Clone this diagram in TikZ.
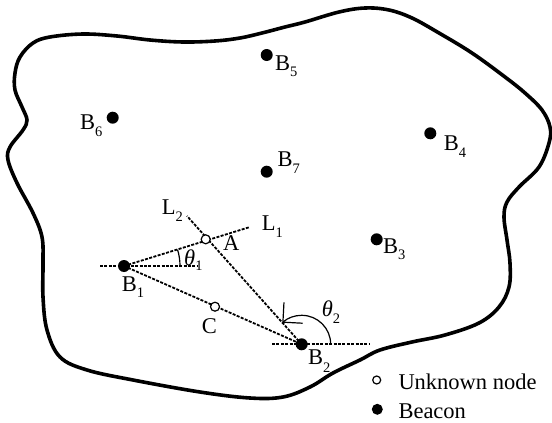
\documentclass[tikz,border=0pt]{standalone}
\usepackage{fontspec}
\setmainfont{Liberation Serif}
\usetikzlibrary{arrows.meta}
\newcommand\sbs[2][6.5pt]{\raisebox{-#1}{\fontsize{14.5}{15}\selectfont #2}}
\begin{document}
\begin{tikzpicture}[x=1pt,y=-1pt,
  beacon/.style={circle,fill=black,inner sep=0pt,minimum size=12pt},
  unknown/.style={circle,draw=black,fill=white,line width=1.2pt,inner sep=0pt,minimum size=9pt},
  lbl/.style={anchor=base west,inner sep=0pt,font=\fontsize{22.5}{26}\selectfont},
  dline/.style={line width=1.8pt,dash pattern=on 3pt off 1.4pt},
  angarc/.style={line width=1.2pt},
  region/.style={line width=3.6pt,line join=round}]
\useasboundingbox (0,0) rectangle (552,423);
% region outline
\draw[region] plot[smooth cycle,tension=0.6] coordinates {
 (20,57) (33,43) (50,37) (83,34) (117,36) (150,40) (183,42) (215,41) (240,38)
 (262,33) (285,27) (305,22) (339,12) (365,8) (389,10) (412,18) (439,33) (472,53)
 (505,77) (525,93) (542,110) (550,127) (549,143) (539,167) (519,187) (507,202)
 (504,217) (507,240) (510,263) (509,287) (499,307) (479,323) (445,335) (412,342)
 (380,350) (360,360) (333,373) (310,387) (283,397) (250,398) (200,392) (133,380)
 (87,370) (60,357) (47,330) (43,297) (43,263) (42,237) (33,213) (17,183) (8,160)
 (10,147) (23,130) (27,120) (22,107) (15,90) (15,73)};
% positions
\coordinate (B1) at (124,266);
\coordinate (B2) at (301.7,344.3);
\coordinate (H1l) at (100,266);
\coordinate (H1r) at (198,266);
\coordinate (H2l) at (272,344.3);
\coordinate (H2r) at (370,344.3);
\coordinate (L1e) at (250,227);
\coordinate (L2e) at (187,216);
% dashed construction lines
\draw[dline] (H1l) -- (H1r);
\draw[dline] (H2l) -- (H2r);
\draw[dline] (B1) -- (L1e);
\draw[dline] (B1) -- (B2);
\draw[dline] (B2) -- (L2e);
% angles
\draw[angarc] (B1) ++(56pt,0pt) arc[start angle=0,end angle=17,radius=56pt];
\draw[angarc,-{Straight Barb[length=14pt,width=28pt,line width=1.2pt]}] (B2) ++(29pt,0pt) arc[start angle=0,end angle=132,radius=29pt];
% nodes
\node[beacon] (b1) at (B1) {};
\node[beacon] (b2) at (B2) {};
\node[beacon] (b3) at (376.7,239.3) {};
\node[beacon] (b4) at (430.3,133.3) {};
\node[beacon] (b5) at (266.7,55) {};
\node[beacon] (b6) at (112.7,117.7) {};
\node[beacon] (b7) at (266.7,171.7) {};
\node[unknown] (a) at (205.7,239.3) {};
\node[unknown] (c) at (215,306.7) {};
% labels
\node[lbl] (lb1) at (121.7,291.7) {B\sbs[5.5pt]{1}};
\node[lbl] (lb2) at (308,364) {B\sbs[8pt]{2}};
\node[lbl] (lb3) at (383,253.3) {B\sbs{3}};
\node[lbl] (lb4) at (443.7,150.7) {B\sbs{4}};
\node[lbl] (lb5) at (275,70) {B\sbs{5}};
\node[lbl] (lb6) at (80,129) {B\sbs[7pt]{6}};
\node[lbl] (lb7) at (277.3,166.7) {B\sbs{7}};
\node[lbl] (la) at (223,250.7) {A};
\node[lbl] (lc) at (201.7,333.3) {C};
\node[lbl] (ll1) at (261.7,230.7) {L\sbs{1}};
\node[lbl] (ll2) at (161.7,214) {L\sbs[7pt]{2}};
\node[lbl] (lt1) at (184,265) {\textit{θ}\sbs[5pt]{1}};
\node[lbl] (lt2) at (321.7,316.7) {\textit{θ}\sbs{2}};
% legend
\node[unknown,minimum size=8pt] (legu) at (376.7,380) {};
\node[lbl] (legut) at (398.3,389) {Unknown node};
\node[beacon,minimum size=11pt] (legb) at (377.3,409.3) {};
\node[lbl] (legbt) at (398.3,418.3) {Beacon};
\end{tikzpicture}
\end{document}
